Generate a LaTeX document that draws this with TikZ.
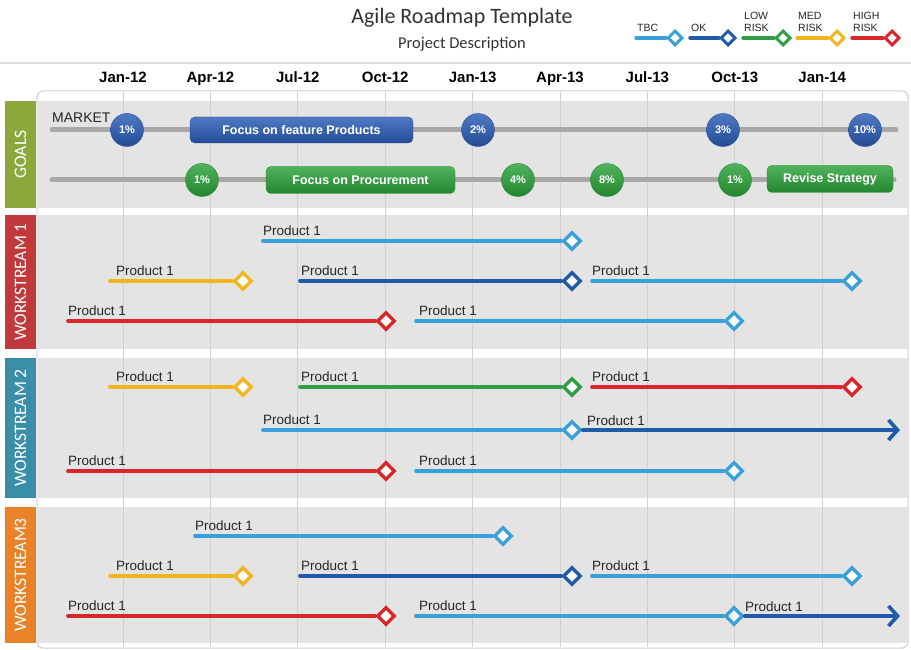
\documentclass[tikz,border=0pt]{standalone}
\usepackage{fontspec}
\setmainfont{Liberation Sans}
\newfontfamily\calib{Carlito}
\usetikzlibrary{shapes.geometric,arrows.meta}
\definecolor{tbc}{HTML}{3AA0DC}
\definecolor{okc}{HTML}{1F5BA8}
\definecolor{lowc}{HTML}{2EA043}
\definecolor{medc}{HTML}{F2B51E}
\definecolor{highc}{HTML}{D9262B}
\definecolor{goalbox}{HTML}{8CA83C}
\definecolor{wsred}{HTML}{C0393B}
\definecolor{wsteal}{HTML}{3A8EA8}
\definecolor{wsorange}{HTML}{E8832A}
\definecolor{bandc}{HTML}{E4E4E4}
\definecolor{gridc}{HTML}{CFCFCF}
\definecolor{goalline}{HTML}{A8A8A8}
\definecolor{barblue}{HTML}{2F62B8}
\definecolor{barbluedk}{HTML}{234C97}
\definecolor{bargreen}{HTML}{32A640}
\definecolor{bargreendk}{HTML}{22862F}
\newcommand\mstone[6]{%
  \coordinate (#1s) at (#3,#5);
  \node[ms=#2] (#1d) at (#4,#5) {};
  \draw[msline=#2] (#1s) -- (#1d);
  \node[prodlbl] (#1l) at ({#6},{#5-6}) {Product 1};
}
\begin{document}
\begin{tikzpicture}[x=1pt,y=-1pt,
  ms/.style={diamond, draw=#1, fill=white, line width=3.4pt, minimum width=18pt, minimum height=18pt, inner sep=0pt},
  lgms/.style={diamond, draw=#1, fill=white, line width=3pt, minimum width=15pt, minimum height=15pt, inner sep=0pt},
  msline/.style={line width=3.7pt, draw=#1, line cap=round},
  lgline/.style={line width=3.4pt, draw=#1, line cap=round},
  prodlbl/.style={anchor=base west, inner sep=0pt, text=black!85, font=\fontsize{13.5}{14}\selectfont},
  lgtxt/.style={anchor=south west, inner sep=0pt, align=left, text=black!85, font=\fontsize{10.5}{12}\selectfont},
  month/.style={inner sep=0pt, anchor=base, font=\bfseries\fontsize{15}{16}\selectfont},
  sidebox/.style={fill=#1, rotate=90, minimum height=31pt, inner sep=0pt, text=white, font=\calib\fontsize{17.5}{18}\selectfont},
  bluecirc/.style={circle, minimum size=33pt, inner sep=0pt, top color=barblue!85!white, bottom color=barbluedk, draw=barbluedk, text=white, font=\bfseries\fontsize{11}{12}\selectfont},
  greencirc/.style={circle, minimum size=33pt, inner sep=0pt, top color=bargreen!85!white, bottom color=bargreendk, draw=bargreendk, text=white, font=\bfseries\fontsize{11}{12}\selectfont},
  bluebar/.style={rounded corners=5pt, inner sep=0pt, minimum height=26pt, top color=barblue!85!white, bottom color=barbluedk, draw=barbluedk, text=white, font=\bfseries\fontsize{12.5}{13}\selectfont},
  greenbar/.style={rounded corners=5pt, inner sep=0pt, minimum height=27pt, top color=bargreen!85!white, bottom color=bargreendk, draw=bargreendk, text=white, font=\bfseries\fontsize{12.5}{13}\selectfont},
  gline/.style={line width=5pt, draw=goalline, line cap=round},
  arr/.style={-{Straight Barb[length=9pt,width=20pt]}}
]
\useasboundingbox (0,0) rectangle (911,650);
\fill[white] (0,0) rectangle (911,650);
% header
\node[font=\calib\fontsize{22}{24}\selectfont, text=black!80] (title) at (462,18) {Agile Roadmap Template};
\node[font=\calib\fontsize{16.5}{18}\selectfont, text=black!80] (sub) at (462,44) {Project Description};
\draw[gridc!70, line width=1.5pt] (0,63) -- (911,63);
% legend
\coordinate (lg1s) at (636,38); \node[lgms=tbc] (lg1) at (675,38) {}; \draw[lgline=tbc] (lg1s) -- (lg1);
\node[lgtxt] (lg1t) at (637,32) {TBC};
\coordinate (lg2s) at (690,38); \node[lgms=okc] (lg2) at (728,38) {}; \draw[lgline=okc] (lg2s) -- (lg2);
\node[lgtxt] (lg2t) at (691,32) {OK};
\coordinate (lg3s) at (743,38); \node[lgms=lowc] (lg3) at (783,38) {}; \draw[lgline=lowc] (lg3s) -- (lg3);
\node[lgtxt] (lg3t) at (744,32) {LOW\\RISK};
\coordinate (lg4s) at (797,38); \node[lgms=medc] (lg4) at (837,38) {}; \draw[lgline=medc] (lg4s) -- (lg4);
\node[lgtxt] (lg4t) at (798,32) {MED\\RISK};
\coordinate (lg5s) at (852,38); \node[lgms=highc] (lg5) at (892,38) {}; \draw[lgline=highc] (lg5s) -- (lg5);
\node[lgtxt] (lg5t) at (853,32) {HIGH\\RISK};
% months
\foreach \lab [count=\i from 0] in {Jan-12,Apr-12,Jul-12,Oct-12,Jan-13,Apr-13,Jul-13,Oct-13,Jan-14}
  \node[month] (m\i) at ({123+87.4*\i},83) {\lab};
% panel and bands
\draw[gridc, fill=white, rounded corners=6pt, line width=1pt] (37,91) rectangle (908,648);
\fill[bandc] (37,101) rectangle (908,208);
\fill[bandc] (37,215) rectangle (908,349);
\fill[bandc] (37,358) rectangle (908,498);
\fill[bandc] (37,507) rectangle (908,643);
\foreach \i in {0,...,8}
  \draw[gridc, line width=0.8pt] ({123+87.4*\i},92) -- ({123+87.4*\i},647);
% side labels
\node[sidebox=goalbox, minimum width=107pt] (goals) at (20.5,154.5) {GOALS};
\node[sidebox=wsred, minimum width=134pt] (ws1) at (20.5,282) {WORKSTREAM 1};
\node[sidebox=wsteal, minimum width=140pt] (ws2) at (20.5,428) {WORKSTREAM 2};
\node[sidebox=wsorange, minimum width=136pt] (ws3) at (20.5,575) {WORKSTREAM3};
% goals
\node[anchor=base west, inner sep=0pt, text=black!85, font=\fontsize{14}{15}\selectfont] (market) at (52,123) {MARKET};
\coordinate (gl1s) at (52,130); \coordinate (gl1e) at (896,130);
\draw[gline] (gl1s) -- (gl1e);
\coordinate (gl2s) at (52,180); \coordinate (gl2e) at (894,180);
\draw[gline] (gl2s) -- (gl2e);
\node[bluebar, minimum width=223pt] (fb1) at (301.5,130) {Focus on feature Products};
\node[bluecirc] (b1) at (127,130) {1\%};
\node[bluecirc] (b2) at (478,130) {2\%};
\node[bluecirc] (b3) at (723,130) {3\%};
\node[bluecirc] (b4) at (865,130) {10\%};
\node[greenbar, minimum width=189pt] (fg1) at (360.5,180) {Focus on Procurement};
\node[greenbar, minimum width=126pt] (fg2) at (830,179) {Revise Strategy};
\node[greencirc] (g1) at (202,180) {1\%};
\node[greencirc] (g2) at (518,180) {4\%};
\node[greencirc] (g3) at (607,180) {8\%};
\node[greencirc] (g4) at (735,180) {1\%};
% workstream 1
\mstone{a1}{tbc}{263}{572}{241}{263}
\mstone{a2}{medc}{110}{243}{281}{116}
\mstone{a3}{okc}{300}{572}{281}{301}
\mstone{a4}{tbc}{592}{852}{281}{592}
\mstone{a5}{highc}{68}{386}{321}{68}
\mstone{a6}{tbc}{416}{734}{321}{419}
% workstream 2
\mstone{b1}{medc}{110}{243}{387}{116}
\mstone{b2}{lowc}{300}{572}{387}{301}
\mstone{b3}{highc}{592}{852}{387}{592}
\mstone{b4}{tbc}{263}{572}{430}{263}
\coordinate (b5e) at (900,430);
\draw[msline=okc, arr] (b4d) -- (b5e);
\node[prodlbl] (b5l) at (587,425) {Product 1};
\mstone{b6}{highc}{68}{386}{471}{68}
\mstone{b7}{tbc}{416}{734}{471}{419}
% workstream 3
\mstone{c1}{tbc}{195}{503}{536}{195}
\mstone{c2}{medc}{110}{243}{576}{116}
\mstone{c3}{okc}{300}{572}{576}{301}
\mstone{c4}{tbc}{592}{852}{576}{592}
\mstone{c5}{highc}{68}{386}{616}{68}
\mstone{c6}{tbc}{416}{734}{616}{419}
\coordinate (c7e) at (900,616);
\draw[msline=okc, arr] (c6d) -- (c7e);
\node[prodlbl] (c7l) at (745,611) {Product 1};
\end{tikzpicture}
\end{document}
